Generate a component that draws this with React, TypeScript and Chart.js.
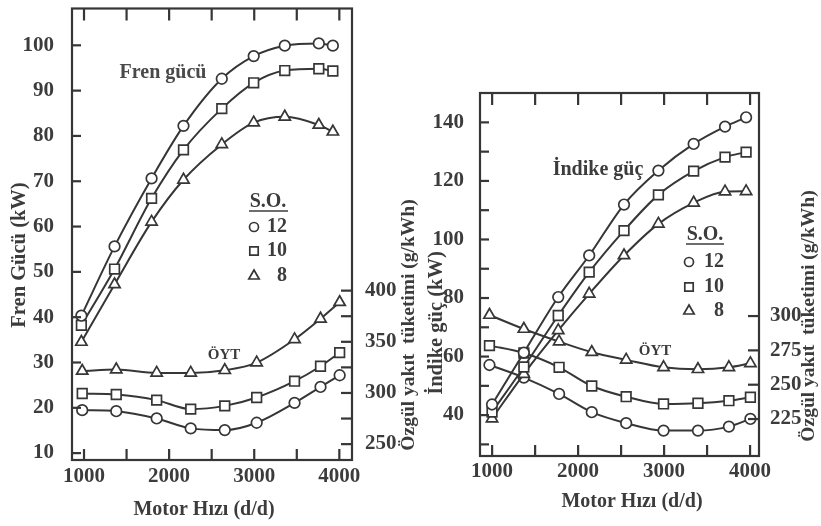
import React, { useEffect, useRef } from 'react';
import { Chart, registerables } from 'chart.js';

Chart.register(...registerables);

const FONT = "'Liberation Serif', 'Times New Roman', serif";
const INK = '#363636';
const TEXT = '#3c3c3c';

// ---------- Left panel: Fren gücü + ÖYT ----------
const leftPowerRpm = [970, 1360, 1795, 2170, 2620, 2995, 3360, 3760, 3925];
const fren12 = [40.3, 55.6, 70.6, 82.2, 92.6, 97.6, 99.9, 100.4, 99.9];
const fren10 = [38.2, 50.6, 66.2, 76.9, 86.0, 91.7, 94.4, 94.8, 94.3];
const fren8 = [34.5, 47.2, 61.0, 70.3, 78.1, 82.9, 84.2, 82.4, 80.9];
const leftOytRpm = [980, 1380, 1855, 2255, 2655, 3030, 3475, 3780, 4005];
const leftOyt12 = [283.1, 282.1, 275.0, 265.3, 263.6, 270.8, 290.2, 305.8, 317.2];
const leftOyt10 = [299.4, 298.4, 292.9, 284.1, 287.3, 295.5, 311.4, 326.0, 339.3];
const leftOyt8 = [321.4, 322.8, 319.5, 319.5, 322.1, 329.6, 352.3, 372.4, 388.6];

// ---------- Right panel: İndike güç + ÖYT ----------
const rightPowerRpm = [1000, 1370, 1770, 2130, 2535, 2935, 3345, 3710, 3955];
const indike12 = [43.6, 61.3, 80.3, 94.5, 111.9, 123.5, 132.6, 138.5, 141.7];
const indike10 = [41.0, 56.4, 74.0, 88.8, 103.0, 115.2, 123.3, 128.1, 129.8];
const indike8 = [38.8, 54.0, 68.9, 81.4, 94.5, 105.3, 112.5, 116.3, 116.4];
const rightOytRpm = [970, 1370, 1780, 2160, 2560, 2995, 3395, 3755, 4005];
const rightOyt12 = [264.3, 255.1, 243.2, 229.9, 221.9, 216.5, 216.5, 219.4, 225.0];
const rightOyt10 = [278.4, 273.0, 262.6, 249.0, 241.2, 235.9, 236.4, 238.3, 240.8];
const rightOyt8 = [300.7, 290.5, 281.3, 273.6, 268.0, 262.6, 261.2, 262.6, 265.5];

// ---------- Ticks / labels ----------
const rpmTicks = [1000, 1500, 2000, 2500, 3000, 3500, 4000];
const rpmLabels = [1000, 2000, 3000, 4000];
const frenTicks = [10, 20, 30, 40, 50, 60, 70, 80, 90, 100];
const leftOytTicks = [250, 275, 300, 325, 350, 375, 400];
const leftOytLabels = [250, 300, 350, 400];
const indikeTicks = [30, 40, 50, 60, 70, 80, 90, 100, 110, 120, 130, 140];
const indikeLabels = [40, 60, 80, 100, 120, 140];
const rightOytTicks = [225, 250, 275, 300];
const soTitle = 'S.O.';
const soLabels = ['12', '10', '8'];
const soStyles = ['circle', 'rect', 'triangle'];

const xTitle = 'Motor Hızı (d/d)';
const oytTitle = 'Özgül yakıt  tüketimi (g/kWh)';

type TextSpec = { text: string; x: number; y: number; size: number; rot?: boolean; color?: string; align?: CanvasTextAlign };

function pts(xs: number[], ys: number[]) {
  return xs.map((x, i) => ({ x, y: ys[i] }));
}

function ds(label: string, xs: number[], ys: number[], style: string, axis: string) {
  const radius = style === 'circle' ? 5.3 : style === 'rect' ? 6.8 : 6.5;
  return {
    label,
    data: pts(xs, ys),
    yAxisID: axis,
    borderColor: INK,
    borderWidth: 2,
    pointStyle: style,
    pointRadius: radius,
    pointBackgroundColor: '#ffffff',
    pointBorderColor: INK,
    pointBorderWidth: 1.7,
    cubicInterpolationMode: 'monotone',
    fill: false,
  };
}

function drawMarker(ctx: CanvasRenderingContext2D, style: string, x: number, y: number) {
  ctx.save();
  ctx.strokeStyle = INK;
  ctx.fillStyle = '#fff';
  ctx.lineWidth = 1.7;
  ctx.beginPath();
  if (style === 'circle') {
    ctx.arc(x, y, 4.5, 0, Math.PI * 2);
  } else if (style === 'rect') {
    ctx.rect(x - 4.2, y - 4.2, 8.4, 8.4);
  } else {
    const r = 6;
    ctx.moveTo(x, y - r);
    ctx.lineTo(x + r * 0.866, y + r * 0.5);
    ctx.lineTo(x - r * 0.866, y + r * 0.5);
    ctx.closePath();
  }
  ctx.fill();
  ctx.stroke();
  ctx.restore();
}

function decor(texts: TextSpec[], legend: any, leftTicks: number[], rightTicks: number[]) {
  return {
    id: 'decor',
    afterDraw(chart: any) {
      const ctx: CanvasRenderingContext2D = chart.ctx;
      const a = chart.chartArea;
      const sx = chart.scales['x'];
      const sy = chart.scales['y'];
      const sy2 = chart.scales['y2'];

      // frame
      ctx.save();
      ctx.strokeStyle = INK;
      ctx.lineWidth = 2.2;
      ctx.strokeRect(a.left, a.top, a.right - a.left, a.bottom - a.top);

      // inward tick marks, placed through the chart's scales
      ctx.fillStyle = INK;
      for (let i = 0; i < rpmTicks.length; i++) {
        const px = sx.getPixelForValue(rpmTicks[i]);
        ctx.fillRect(px - 1, a.bottom - 11, 2.2, 11);
        ctx.fillRect(px - 1, a.top, 2.2, 12);
      }
      for (let i = 0; i < leftTicks.length; i++) {
        const py = sy.getPixelForValue(leftTicks[i]);
        ctx.fillRect(a.left, py - 1, 9, 2.2);
      }
      for (let i = 0; i < rightTicks.length; i++) {
        const py = sy2.getPixelForValue(rightTicks[i]);
        ctx.fillRect(a.right - 11, py - 1, 11, 2.2);
      }
      ctx.restore();

      ctx.save();
      for (const t of texts) {
        ctx.save();
        ctx.font = `bold ${t.size}px ${FONT}`;
        ctx.fillStyle = t.color || TEXT;
        ctx.textAlign = t.align || 'center';
        ctx.textBaseline = 'middle';
        ctx.translate(t.x, t.y);
        if (t.rot) ctx.rotate(-Math.PI / 2);
        ctx.fillText(t.text, 0, 0);
        ctx.restore();
      }
      // legend
      ctx.font = `bold 20px ${FONT}`;
      ctx.fillStyle = TEXT;
      ctx.textAlign = 'center';
      ctx.textBaseline = 'middle';
      ctx.fillText(soTitle, legend.tx, legend.ty);
      ctx.strokeStyle = TEXT;
      ctx.lineWidth = 1.6;
      ctx.beginPath();
      ctx.moveTo(legend.ux1, legend.ty + 9);
      ctx.lineTo(legend.ux2, legend.ty + 9);
      ctx.stroke();
      ctx.textAlign = 'right';
      soLabels.forEach((lab, i) => {
        drawMarker(ctx, soStyles[i], legend.mx, legend.rows[i]);
        ctx.fillStyle = TEXT;
        ctx.fillText(lab, legend.lx, legend.rows[i]);
      });
      ctx.restore();
    },
  };
}

function tickFont() {
  return { family: FONT, size: 21, weight: 'bold' as const };
}

function zeroPad(s: any) {
  s.paddingTop = 0;
  s.paddingBottom = 0;
  s.paddingLeft = 0;
  s.paddingRight = 0;
}

function makeConfig(p: any) {
  return {
    type: 'line',
    data: { datasets: p.datasets },
    options: {
      animation: false,
      responsive: false,
      events: [],
      layout: { padding: { top: p.top, left: 0, right: 0, bottom: 0 } },
      plugins: { legend: { display: false }, tooltip: { enabled: false } },
      scales: {
        x: {
          type: 'linear',
          min: p.xmin,
          max: p.xmax,
          afterBuildTicks: (s: any) => { s.ticks = rpmTicks.map((v) => ({ value: v })); },
          afterFit: (s: any) => { s.height = p.xh; zeroPad(s); },
          ticks: {
            autoSkip: false,
            maxRotation: 0,
            padding: p.xpad,
            color: TEXT,
            font: tickFont(),
            callback: (v: number) => (rpmLabels.includes(v) ? String(v) : ''),
          },
          grid: { display: false },
          border: { display: false },
        },
        y: {
          type: 'linear',
          position: 'left',
          min: p.ymin,
          max: p.ymax,
          afterBuildTicks: (s: any) => { s.ticks = p.yTicks.map((v: number) => ({ value: v })); },
          afterFit: (s: any) => { s.width = p.yw; zeroPad(s); },
          ticks: {
            autoSkip: false,
            padding: p.ypad,
            color: TEXT,
            font: tickFont(),
            callback: (v: number) => (p.yLabels.includes(v) ? String(v) : ''),
          },
          grid: { display: false },
          border: { display: false },
        },
        y2: {
          type: 'linear',
          position: 'right',
          min: p.y2min,
          max: p.y2max,
          afterBuildTicks: (s: any) => { s.ticks = p.y2Ticks.map((v: number) => ({ value: v })); },
          afterFit: (s: any) => { s.width = p.y2w; zeroPad(s); },
          ticks: {
            autoSkip: false,
            padding: p.y2pad,
            color: TEXT,
            font: tickFont(),
            callback: (v: number) => (p.y2Labels.includes(v) ? String(v) : ''),
          },
          grid: { display: false },
          border: { display: false },
        },
      },
    },
    plugins: [decor(p.texts, p.legend, p.yTicks, p.y2Ticks)],
  };
}

const leftPanel = {
  datasets: [
    ds('Fren gücü S.O. 12', leftPowerRpm, fren12, 'circle', 'y'),
    ds('Fren gücü S.O. 10', leftPowerRpm, fren10, 'rect', 'y'),
    ds('Fren gücü S.O. 8', leftPowerRpm, fren8, 'triangle', 'y'),
    ds('ÖYT S.O. 12', leftOytRpm, leftOyt12, 'circle', 'y2'),
    ds('ÖYT S.O. 10', leftOytRpm, leftOyt10, 'rect', 'y2'),
    ds('ÖYT S.O. 8', leftOytRpm, leftOyt8, 'triangle', 'y2'),
  ],
  top: 7, xh: 66, xpad: -4, yw: 72, ypad: 10, y2w: 68, y2pad: 5,
  xmin: 860, xmax: 4150,
  ymin: 8.46, ymax: 108.1, yTicks: frenTicks, yLabels: frenTicks,
  y2min: 234.4, y2max: 675.6, y2Ticks: leftOytTicks, y2Labels: leftOytLabels,
  texts: [
    { text: 'Fren Gücü (kW)', x: 20, y: 255, size: 20.5, rot: true },
    { text: oytTitle, x: 409, y: 325, size: 19.5, rot: true },
    { text: xTitle, x: 204, y: 510, size: 20 },
    { text: 'Fren gücü', x: 163, y: 73, size: 20, color: '#4a4a4a' },
    { text: 'ÖYT', x: 224, y: 355, size: 15 },
  ],
  legend: { tx: 268, ty: 202, ux1: 249, ux2: 288, mx: 254, lx: 287, rows: [227, 251, 276] },
};

const rightPanel = {
  datasets: [
    ds('İndike güç S.O. 12', rightPowerRpm, indike12, 'circle', 'y'),
    ds('İndike güç S.O. 10', rightPowerRpm, indike10, 'rect', 'y'),
    ds('İndike güç S.O. 8', rightPowerRpm, indike8, 'triangle', 'y'),
    ds('ÖYT S.O. 12', rightOytRpm, rightOyt12, 'circle', 'y2'),
    ds('ÖYT S.O. 10', rightOytRpm, rightOyt10, 'rect', 'y2'),
    ds('ÖYT S.O. 8', rightOytRpm, rightOyt8, 'triangle', 'y2'),
  ],
  top: 93, xh: 70, xpad: -5, yw: 60, ypad: 8, y2w: 62, y2pad: 3,
  xmin: 860, xmax: 4105,
  ymin: 26, ymax: 150, yTicks: indikeTicks, yLabels: indikeLabels,
  y2min: 198, y2max: 462.4, y2Ticks: rightOytTicks, y2Labels: rightOytTicks,
  texts: [
    { text: 'İndike güç (kW)', x: 17, y: 323, size: 20.5, rot: true },
    { text: oytTitle, x: 389, y: 316, size: 19.5, rot: true },
    { text: xTitle, x: 212, y: 502, size: 20 },
    { text: 'İndike güç', x: 178, y: 170, size: 20 },
    { text: 'ÖYT', x: 235, y: 351, size: 15 },
  ],
  legend: { tx: 285, ty: 235, ux1: 266, ux2: 304, mx: 269, lx: 304, rows: [262, 287, 311] },
};

function Panel({ spec, left, width }: { spec: any; left: number; width: number }) {
  const ref = useRef<HTMLCanvasElement>(null);
  useEffect(() => {
    if (!ref.current) return;
    const chart = new Chart(ref.current, makeConfig(spec) as any);
    return () => chart.destroy();
  }, []);
  return (
    <canvas
      ref={ref}
      width={width}
      height={526}
      style={{ position: 'absolute', left, top: 0, width, height: 526 }}
    />
  );
}

export default function App() {
  useEffect(() => {
    document.body.style.margin = '0';
  }, []);
  return (
    <div style={{ position: 'fixed', left: 0, top: 0, width: 821, height: 526, background: '#ffffff', overflow: 'hidden' }}>
      <Panel spec={leftPanel} left={0} width={420} />
      <Panel spec={rightPanel} left={420} width={401} />
    </div>
  );
}
